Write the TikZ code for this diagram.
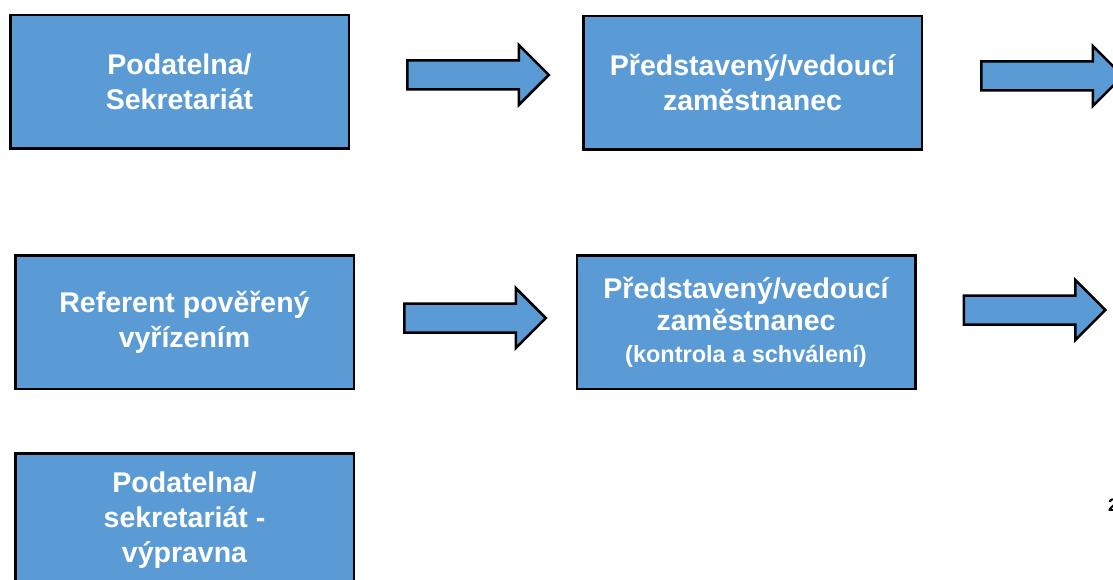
\documentclass[tikz,border=0pt]{standalone}
\usepackage{fontspec}
\setmainfont{Liberation Sans}
\usepackage{xcolor}
\usetikzlibrary{shapes.arrows, positioning}

\definecolor{boxblue}{RGB}{91,155,213}

\begin{document}
\begin{tikzpicture}[
    x=1pt, y=-1pt,
    box/.style={rectangle, draw=black, line width=2.5pt, fill=boxblue, minimum width=338.5pt, minimum height=133.5pt, align=center, text=white, font=\fontsize{28.5}{35}\selectfont\bfseries},
    blockarrow/.style={single arrow, draw=black, line width=2.5pt, fill=boxblue, inner xsep=0pt, inner ysep=13.25pt, minimum height=141.5pt, single arrow head extend=15.5pt, single arrow tip angle=90}
]

\useasboundingbox (0,0) rectangle (1113,580);
\clip (0,0) rectangle (1113,580);

% First row
\node[box] (podatelna) at (179.5,82) {Podatelna/\\Sekretariát};
\node[box] (predstaveny) at (752.5,83) {Představený/vedoucí\\zaměstnanec};

% Second row
\node[box] (referent) at (184.5,322) {Referent pověřený\\vyřízením};
\node[box] (kontrola) at (746,322) {Představený/vedoucí\\[-3pt]zaměstnanec\\[-3pt]{\fontsize{23.5}{28}\selectfont (kontrola a schválení)}};

% Third row
\node[box] (vypravna) at (184.5,520) {Podatelna/\\sekretariát -\\výpravna};

% Block arrows
\node[blockarrow, right=56pt of podatelna, yshift=7pt] (arrowA) {};
\node[blockarrow, right=57pt of predstaveny, yshift=7pt] (arrowB) {};
\node[blockarrow, right=48pt of referent, yshift=4pt] (arrowC) {};
\node[blockarrow, right=46pt of kontrola, yshift=12pt] (arrowD) {};

% Page number
\node[anchor=base west, inner sep=0pt, font=\fontsize{18}{22}\selectfont\bfseries] (pagenum) at (1108,511) {2};

\end{tikzpicture}
\end{document}
